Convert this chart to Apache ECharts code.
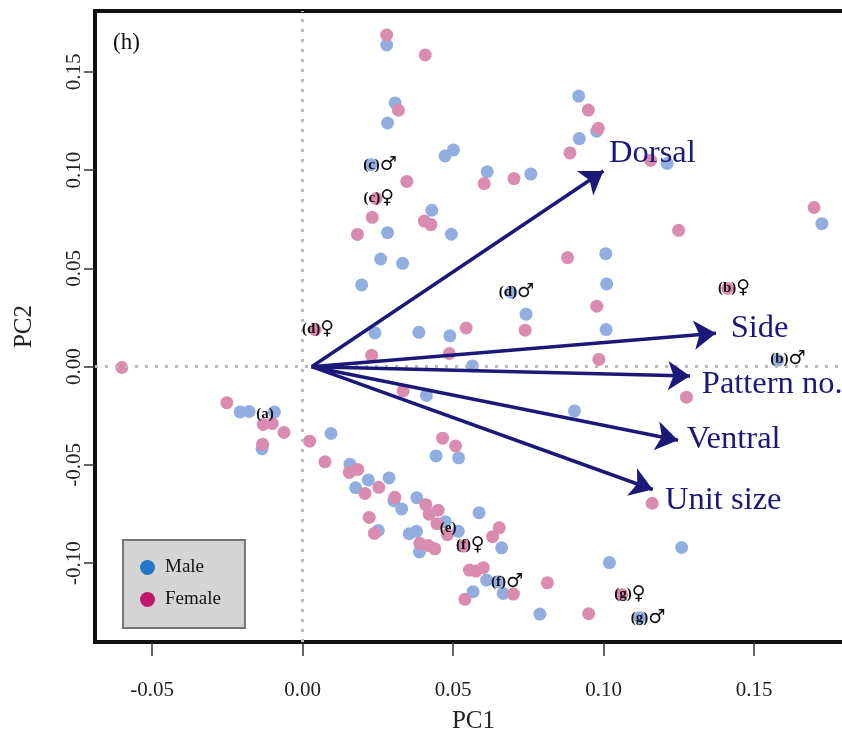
<!DOCTYPE html>
<html>
<head>
<meta charset="utf-8">
<script src="https://cdn.jsdelivr.net/npm/echarts@6/dist/echarts.min.js"></script>
<style>
html, body { margin: 0; padding: 0; background: #fff; }
#chart { width: 842px; height: 737px; }
</style>
</head>
<body>
<div id="chart"></div>
<script>
// PC scores, male specimens
const maleData = [
	[0.0279, 0.1637], [0.0307, 0.1342], [0.0282, 0.1240], [0.0501, 0.1103], [0.0473, 0.1072],
	[0.0227, 0.1028], [0.0613, 0.0992], [0.0758, 0.0980], [0.0917, 0.1377], [0.0977, 0.1198],
	[0.0919, 0.1161], [0.1211, 0.1034], [0.1725, 0.0728], [0.0429, 0.0796], [0.0282, 0.0682],
	[0.0494, 0.0674], [0.0259, 0.0548], [0.0332, 0.0526], [0.0196, 0.0416], [0.1007, 0.0575],
	[0.1010, 0.0421], [0.0742, 0.0267], [0.0692, 0.0379], [0.1008, 0.0189], [0.0240, 0.0172],
	[0.0386, 0.0175], [0.0489, 0.0157], [0.0564, 0.0004], [0.1578, 0.0033], [0.0411, -0.0146],
	[0.0903, -0.0225], [-0.0208, -0.0230], [-0.0178, -0.0228], [-0.0094, -0.0230], [-0.0135, -0.0417],
	[0.0094, -0.0340], [0.0443, -0.0454], [0.0518, -0.0464], [0.0157, -0.0497], [0.0218, -0.0576],
	[0.0287, -0.0566], [0.0176, -0.0616], [0.0303, -0.0682], [0.0329, -0.0724], [0.0379, -0.0667],
	[0.0251, -0.0833], [0.0354, -0.0850], [0.0378, -0.0838], [0.0388, -0.0943], [0.0474, -0.0789],
	[0.0517, -0.0838], [0.0586, -0.0743], [0.0661, -0.0922], [0.0611, -0.1086], [0.0650, -0.1095],
	[0.0566, -0.1145], [0.0666, -0.1154], [0.0788, -0.1259], [0.1019, -0.0997], [0.1259, -0.0920],
	[0.1120, -0.1277]
];

// PC scores, female specimens
const femaleData = [
	[0.0279, 0.1688], [0.0407, 0.1586], [0.0318, 0.1305], [0.0346, 0.0943], [0.0244, 0.0856],
	[0.0603, 0.0932], [0.0702, 0.0957], [0.0949, 0.1306], [0.0982, 0.1213], [0.0888, 0.1088],
	[0.1156, 0.1050], [0.1699, 0.0810], [0.1249, 0.0694], [0.0231, 0.0760], [0.0404, 0.0741],
	[0.0426, 0.0723], [0.0182, 0.0673], [0.0880, 0.0555], [0.0977, 0.0308], [0.0739, 0.0186],
	[0.0543, 0.0197], [0.1412, 0.0398], [0.0041, 0.0189], [0.0229, 0.0058], [0.0487, 0.0067],
	[0.0984, 0.0037], [-0.0601, -0.0004], [0.0334, -0.0123], [0.1275, -0.0155], [-0.0252, -0.0183],
	[-0.0131, -0.0294], [-0.0101, -0.0289], [-0.0062, -0.0335], [-0.0133, -0.0395], [0.0023, -0.0379],
	[0.0465, -0.0364], [0.0508, -0.0403], [0.0074, -0.0484], [0.0155, -0.0538], [0.0183, -0.0523],
	[0.0207, -0.0645], [0.0253, -0.0614], [0.0306, -0.0665], [0.0409, -0.0702], [0.0450, -0.0730],
	[0.0420, -0.0751], [0.0221, -0.0767], [0.0238, -0.0848], [0.0446, -0.0799], [0.0389, -0.0899],
	[0.0417, -0.0910], [0.0439, -0.0927], [0.0481, -0.0855], [0.0653, -0.0820], [0.0631, -0.0865],
	[0.0534, -0.0913], [0.0554, -0.1035], [0.0576, -0.1040], [0.0600, -0.1023], [0.0539, -0.1184],
	[0.0700, -0.1157], [0.0813, -0.1100], [0.0950, -0.1257], [0.1161, -0.0695], [0.1060, -0.1160]
];

// loading vectors
const vectorNames = ["Dorsal", "Side", "Pattern no.", "Ventral", "Unit size"];
const vectorOrigin = [0.003, 0];
const vectorTips = [[0.0999, 0.0996], [0.1373, 0.0170], [0.1287, -0.0048], [0.1247, -0.0374], [0.1163, -0.0625]];
const vectorLabelAt = [[0.1018, 0.1096], [0.1422, 0.0206], [0.1326, -0.0080], [0.1276, -0.0360], [0.1204, -0.0669]];

// group centroid tags
const groupNames = ["(a)", "(b)", "(b)", "(c)", "(c)", "(d)", "(d)", "(e)", "(f)", "(f)", "(g)", "(g)"];
const groupSex = ["", "♀", "♂", "♂", "♀", "♂", "♀", "", "♀", "♂", "♀", "♂"];
const groupLabelAt = [
	[-0.0125, -0.0239], [0.1433, 0.0398], [0.1612, 0.0037], [0.0257, 0.1028], [0.0253, 0.0856],
	[0.0710, 0.0380], [0.0051, 0.0189], [0.0483, -0.0823], [0.0557, -0.0908], [0.0679, -0.1095],
	[0.1087, -0.1157], [0.1147, -0.1281]
];

const xTicks = [-0.05, 0, 0.05, 0.1, 0.15];
const yTicks = [-0.1, -0.05, 0, 0.05, 0.1, 0.15];

const serif = "'Liberation Serif', 'DejaVu Serif', serif";
const navy = "#1c1878";

let myCharts = echarts.init(document.getElementById("chart"));
let option = {
	animation: false,
	title: {
		text: "(h)",
		left: 108,
		top: 26,
		textStyle: { fontFamily: serif, fontWeight: "normal", fontSize: 23, color: "#111" },
	},
	legend: {
		orient: "vertical",
		left: 123,
		top: 540,
		padding: [18, 24, 19, 17],
		itemGap: 13,
		itemWidth: 15,
		itemHeight: 15,
		icon: "circle",
		backgroundColor: "#d4d5d4",
		borderColor: "#777",
		borderWidth: 2,
		textStyle: { fontFamily: serif, fontSize: 19, color: "#111", padding: [0, 0, 0, 5] },
		data: [
			{ name: "Male", itemStyle: { color: "#2277c9" } },
			{ name: "Female", itemStyle: { color: "#c2186a" } },
		],
	},
	grid: {
		left: 95,
		top: 11,
		right: -10,
		bottom: 95,
		outerBoundsMode: "none",
		containLabel: false,
		show: true,
		borderColor: "#111",
		borderWidth: 4,
	},
	xAxis: {
		type: "value",
		min: -0.069,
		max: 0.1825,
		name: "PC1",
		nameLocation: "middle",
		nameGap: 67,
		nameTextStyle: { fontFamily: serif, fontSize: 25, color: "#222" },
		axisLine: { show: false, onZero: false },
		splitLine: { show: false },
		axisTick: { show: true, length: 14, customValues: xTicks, lineStyle: { color: "#333", width: 1.5 } },
		axisLabel: {
			customValues: xTicks,
			margin: 38,
			fontFamily: serif,
			fontSize: 21,
			color: "#222",
			formatter: (v) => v.toFixed(2),
		},
	},
	yAxis: {
		type: "value",
		min: -0.1401,
		max: 0.181,
		name: "PC2",
		nameLocation: "middle",
		nameGap: 58,
		nameRotate: 90,
		nameTextStyle: { fontFamily: serif, fontSize: 25, color: "#222" },
		axisLine: { show: false, onZero: false },
		splitLine: { show: false },
		axisTick: { show: true, length: 11, customValues: yTicks, lineStyle: { color: "#333", width: 1.5 } },
		axisLabel: {
			customValues: yTicks,
			rotate: 90,
			margin: 10,
			fontFamily: serif,
			fontSize: 21,
			color: "#222",
			formatter: (v) => v.toFixed(2),
		},
	},
	series: [
		{
			// zero reference lines
			type: "scatter",
			data: [],
			z: 1,
			silent: true,
			markLine: {
				silent: true,
				symbol: ["none", "none"],
				label: { show: false },
				lineStyle: { color: "#bbb", width: 3, type: [3, 7] },
				data: [{ xAxis: 0 }, { yAxis: 0 }],
			},
		},
		{
			name: "Male",
			type: "scatter",
			symbolSize: 13,
			z: 2,
			itemStyle: { color: "#92aee0", opacity: 1 },
			data: maleData,
		},
		{
			name: "Female",
			type: "scatter",
			symbolSize: 13,
			z: 3,
			itemStyle: { color: "#da8bb0", opacity: 1 },
			data: femaleData,
		},
		{
			// loading arrows
			type: "scatter",
			data: [],
			z: 5,
			silent: true,
			markLine: {
				silent: true,
				symbol: ["none", "arrow"],
				symbolSize: 22,
				label: { show: false },
				itemStyle: { color: navy },
				lineStyle: { color: navy, width: 3.5, type: "solid", opacity: 1 },
				data: vectorTips.map((t) => [{ coord: vectorOrigin }, { coord: t }]),
			},
		},
		{
			// arrow labels
			type: "scatter",
			z: 6,
			silent: true,
			symbolSize: 0,
			itemStyle: { color: navy, opacity: 1 },
			label: {
				show: true,
				position: "right",
				distance: 0,
				offset: [0, 2],
				opacity: 1,
				fontFamily: serif,
				fontSize: 32.5,
				color: navy,
				formatter: (p) => vectorNames[p.dataIndex],
			},
			data: vectorLabelAt,
		},
		{
			// group tags
			type: "scatter",
			z: 7,
			silent: true,
			symbolSize: 0,
			itemStyle: { color: "#111", opacity: 1 },
			label: {
				show: true,
				position: "inside",
				opacity: 1,
				formatter: (p) => "{g|" + groupNames[p.dataIndex] + "}" + (groupSex[p.dataIndex] ? "{s|" + groupSex[p.dataIndex] + "}" : ""),
				rich: {
					g: { fontFamily: serif, fontWeight: "bold", fontSize: 15, color: "#111" },
					s: { fontFamily: "'DejaVu Sans', sans-serif", fontSize: 19, color: "#111" },
				},
			},
			data: groupLabelAt,
		},
	],
};
myCharts.setOption(option);
</script>
</body>
</html>
